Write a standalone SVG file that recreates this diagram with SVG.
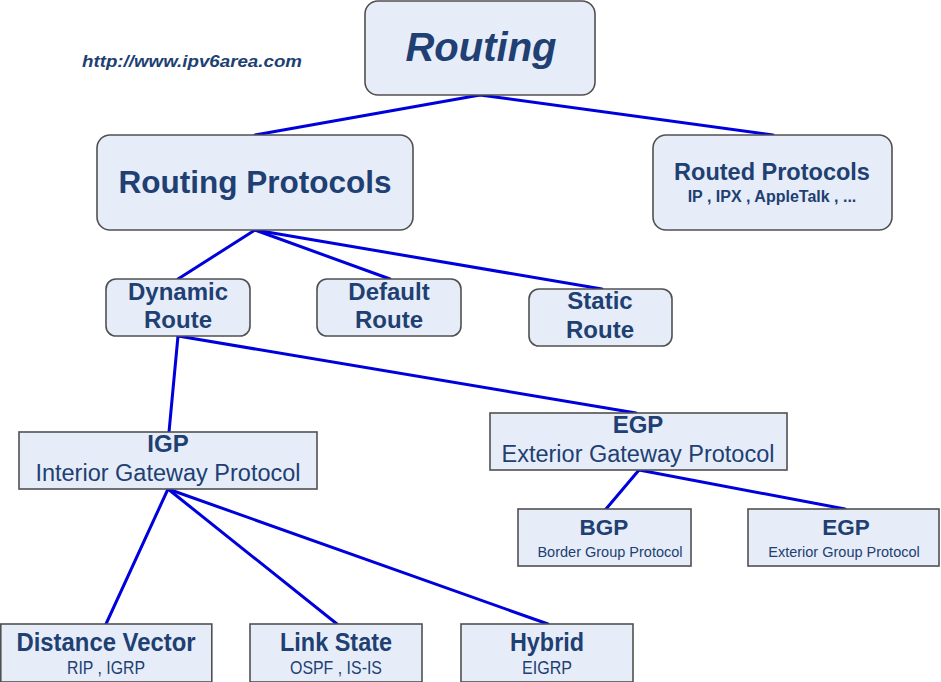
<svg xmlns="http://www.w3.org/2000/svg" width="941" height="682" viewBox="0 0 941 682">
<style>
.box{fill:#e7edf8;stroke:#505050;stroke-width:1.6}
.t{font-family:"Liberation Sans",Arial,sans-serif;fill:#203f72;text-anchor:middle}
.b{font-weight:bold}
.c{stroke:#0000dd;stroke-width:3;fill:none;stroke-linecap:round}
</style>
<rect width="941" height="682" fill="#ffffff"/>
<g id="connectors">
<line class="c" x1="480" y1="95" x2="255" y2="135"/>
<line class="c" x1="480" y1="95" x2="773" y2="135"/>
<line class="c" x1="255" y1="230" x2="178" y2="279"/>
<line class="c" x1="255" y1="230" x2="390" y2="279"/>
<line class="c" x1="255" y1="230" x2="602" y2="289"/>
<line class="c" x1="178" y1="336" x2="169" y2="432"/>
<line class="c" x1="178" y1="336" x2="636" y2="413"/>
<line class="c" x1="639" y1="470" x2="606" y2="509"/>
<line class="c" x1="639" y1="470" x2="845" y2="509"/>
<line class="c" x1="168" y1="489" x2="106" y2="624"/>
<line class="c" x1="168" y1="489" x2="337" y2="624"/>
<line class="c" x1="168" y1="489" x2="548" y2="624"/>
</g>
<text class="t b" x="192" y="67" font-size="17" font-style="italic" textLength="220" lengthAdjust="spacingAndGlyphs">http://www.ipv6area.com</text>
<g id="routing">
<rect class="box" x="365" y="1" width="230" height="94" rx="13"/>
<text class="t b" x="481" y="61" font-size="40" font-style="italic">Routing</text>
</g>
<g id="routing-protocols">
<rect class="box" x="97" y="135" width="316" height="95" rx="13"/>
<text class="t b" x="255" y="193" font-size="31.5">Routing Protocols</text>
</g>
<g id="routed-protocols">
<rect class="box" x="653" y="135" width="239" height="95" rx="13"/>
<text class="t b" x="772" y="180" font-size="23.5">Routed Protocols</text>
<text class="t b" x="772" y="202" font-size="16">IP , IPX , AppleTalk , ...</text>
</g>
<g id="dynamic-route">
<rect class="box" x="106" y="279" width="144" height="57" rx="10"/>
<text class="t b" x="178" y="300" font-size="24">Dynamic</text>
<text class="t b" x="178" y="328" font-size="24">Route</text>
</g>
<g id="default-route">
<rect class="box" x="317" y="279" width="144" height="57" rx="10"/>
<text class="t b" x="389" y="300" font-size="24">Default</text>
<text class="t b" x="389" y="328" font-size="24">Route</text>
</g>
<g id="static-route">
<rect class="box" x="529" y="289" width="143" height="57" rx="10"/>
<text class="t b" x="600" y="309" font-size="24">Static</text>
<text class="t b" x="600" y="338" font-size="24">Route</text>
</g>
<g id="igp">
<rect class="box" x="19" y="432" width="298" height="57"/>
<text class="t b" x="168" y="452" font-size="24">IGP</text>
<text class="t" x="168" y="481" font-size="23.5">Interior Gateway Protocol</text>
</g>
<g id="egp">
<rect class="box" x="490" y="413" width="297" height="57"/>
<text class="t b" x="638" y="433" font-size="24">EGP</text>
<text class="t" x="638" y="462" font-size="23.5">Exterior Gateway Protocol</text>
</g>
<g id="bgp">
<rect class="box" x="518" y="509" width="173" height="57"/>
<text class="t b" x="604" y="535" font-size="22.5">BGP</text>
<text class="t" x="610" y="557" font-size="14.5">Border Group Protocol</text>
</g>
<g id="egp-exterior">
<rect class="box" x="748" y="509" width="191" height="57"/>
<text class="t b" x="846" y="535" font-size="22.5">EGP</text>
<text class="t" x="844" y="557" font-size="14.5">Exterior Group Protocol</text>
</g>
<g id="distance-vector">
<rect class="box" x="0.8" y="624" width="211" height="58"/>
<text class="t b" x="106" y="651" font-size="26" textLength="179" lengthAdjust="spacingAndGlyphs">Distance Vector</text>
<text class="t" x="106" y="674" font-size="17.5" textLength="78" lengthAdjust="spacingAndGlyphs">RIP , IGRP</text>
</g>
<g id="link-state">
<rect class="box" x="250" y="624" width="172" height="58"/>
<text class="t b" x="336" y="651" font-size="26" textLength="112" lengthAdjust="spacingAndGlyphs">Link State</text>
<text class="t" x="336" y="674" font-size="17.5" textLength="92" lengthAdjust="spacingAndGlyphs">OSPF , IS-IS</text>
</g>
<g id="hybrid">
<rect class="box" x="461" y="624" width="172" height="58"/>
<text class="t b" x="547" y="651" font-size="26" textLength="74" lengthAdjust="spacingAndGlyphs">Hybrid</text>
<text class="t" x="547" y="674" font-size="17.5" textLength="50" lengthAdjust="spacingAndGlyphs">EIGRP</text>
</g>
</svg>
